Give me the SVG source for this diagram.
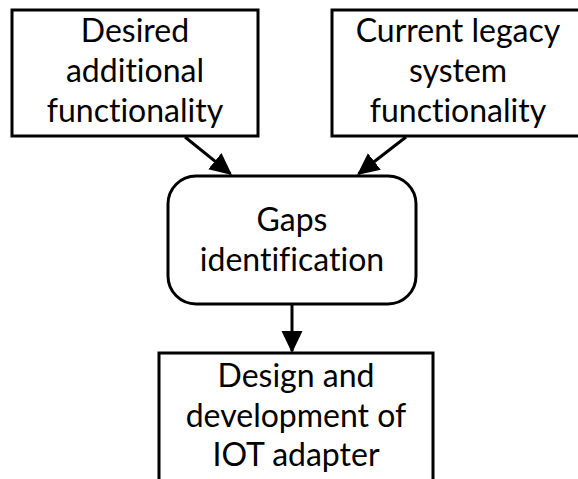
<svg xmlns="http://www.w3.org/2000/svg" width="578" height="479" viewBox="0 0 578 479">
<style>
.box{fill:#fff;stroke:#000;stroke-width:3}
.t{font-family:Lato,"Open Sans","Liberation Sans",sans-serif;font-size:32px;fill:#000;text-anchor:middle;font-variant-ligatures:none;font-feature-settings:"liga" 0}
.c{stroke:#000;stroke-width:3;fill:none;marker-end:url(#ah)}
</style>
<defs>
<marker id="ah" markerUnits="userSpaceOnUse" markerWidth="24" markerHeight="22" refX="20" refY="10.5" orient="auto">
<path d="M0,0 L22,10.5 L0,21 z" fill="#000"/>
</marker>
</defs>
<rect width="578" height="479" fill="#fff"/>
<g id="connectors">
<line class="c" x1="185" y1="137" x2="230.4" y2="173.7"/>
<line class="c" x1="406" y1="137" x2="358.6" y2="173.8"/>
<line class="c" x1="292" y1="304" x2="292" y2="351"/>
</g>
<g id="desired">
<rect class="box" x="12" y="10" width="246" height="126"/>
<text class="t" x="135" y="42">Desired</text>
<text class="t" x="135" y="82">additional</text>
<text class="t" x="135" y="122">functionality</text>
</g>
<g id="current">
<rect class="box" x="332" y="10" width="252" height="126"/>
<text class="t" x="458" y="42">Current legacy</text>
<text class="t" x="458" y="82">system</text>
<text class="t" x="458" y="122">functionality</text>
</g>
<g id="gaps">
<rect class="box" x="168" y="176" width="248" height="128" rx="28" ry="28"/>
<text class="t" x="292" y="231">Gaps</text>
<text class="t" x="292" y="271">identification</text>
</g>
<g id="design">
<rect class="box" x="159" y="353" width="274" height="140"/>
<text class="t" x="296" y="387">Design and</text>
<text class="t" x="296" y="427">development of</text>
<text class="t" x="296" y="466">IOT adapter</text>
</g>
</svg>
